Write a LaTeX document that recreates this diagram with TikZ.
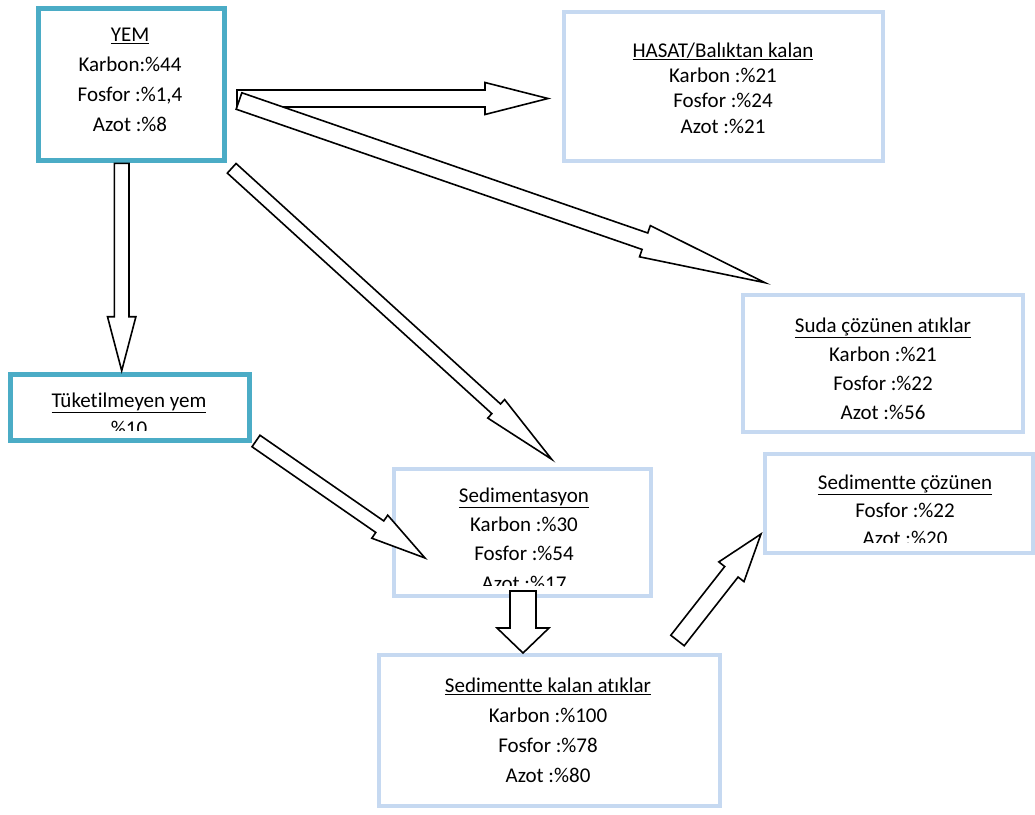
\documentclass[tikz,border=0pt]{standalone}
\usepackage{fontspec}
\setmainfont{Carlito}[Ligatures=CommonOff]
\usetikzlibrary{calc}
\definecolor{yemteal}{RGB}{75,172,198}
\definecolor{paleblue}{RGB}{198,217,241}
\tikzset{
  tealbox/.style={draw=yemteal, line width=5pt, outer sep=0pt, inner sep=0pt, fill=white},
  bluebox/.style={draw=paleblue, line width=4pt, outer sep=0pt, inner sep=0pt, fill=white},
  boxtext/.style={align=center, inner sep=0pt, font=\fontsize{21}{30}\selectfont},
  blockarr/.style={draw=black, line width=1.6pt, fill=white, line join=miter}
}
% block arrow: start, tip, shaft half width, head half width, head length
\newcommand{\blockarrow}[5]{%
  \pgfpointdiff{\pgfpointanchor{#1}{center}}{\pgfpointanchor{#2}{center}}%
  \pgfgetlastxy{\arrdx}{\arrdy}%
  \pgfmathsetmacro{\arrlen}{veclen(\arrdx,\arrdy)}%
  \pgfmathsetmacro{\arrang}{atan2(\arrdy,\arrdx)}%
  \pgfmathsetmacro{\arrbase}{\arrlen-#5}%
  \begin{scope}[shift={(#1)}, rotate=\arrang]
    \draw[blockarr] (0,-#3) -- (\arrbase,-#3) -- (\arrbase,-#4) -- (\arrlen,0)
      -- (\arrbase,#4) -- (\arrbase,#3) -- (0,#3) -- cycle;
  \end{scope}}

\begin{document}
\begin{tikzpicture}[x=1pt, y=-1pt]

      \useasboundingbox (0,0) rectangle (1035,814);

      % BOXES

      \node[tealbox, minimum width=186pt, minimum height=152pt] (yem) at (131.5,84.5) {};
      \node[bluebox, minimum width=319pt, minimum height=149pt] (hasat) at (723.5,86.5) {};
      \node[bluebox, minimum width=280pt, minimum height=137pt] (suda) at (883,363.5) {};
      \node[tealbox, minimum width=239pt, minimum height=66pt] (tuk) at (130,407.5) {};
      \node[bluebox, minimum width=257pt, minimum height=127pt] (sedim) at (522.5,532.5) {};
      \node[bluebox, minimum width=268pt, minimum height=99pt] (sedcoz) at (899,503.5) {};
      \node[bluebox, minimum width=341pt, minimum height=151pt] (sedkal) at (549.5,730.5) {};

      % TEXTS

      \node[boxtext] (yemtxt) at (130,80) {\underline{YEM}\\Karbon:\%44\\ Fosfor :\%1,4\\ Azot :\%8};
      \node[boxtext, font=\fontsize{21}{25.3}\selectfont] (hasattxt) at (723,88)
        {\underline{HASAT/Balıktan kalan}\\Karbon :\%21\\Fosfor :\%24\\Azot :\%21};
      \node[boxtext, font=\fontsize{21}{29}\selectfont] (sudatxt) at (883,368.5)
        {\underline{Suda çözünen atıklar}\\Karbon :\%21\\Fosfor :\%22\\Azot :\%56};
      \node[boxtext] (sedkaltxt) at (548,730)
        {\underline{Sedimentte kalan atıklar}\\Karbon :\%100\\Fosfor :\%78\\Azot :\%80};

      % clipped texts
      \begin{scope}
        \clip ([shift={(2.5,2.5)}]tuk.north west) rectangle ([shift={(-2.5,-10.5)}]tuk.south east);
        \node[boxtext, font=\fontsize{21}{28}\selectfont] (tuktxt) at (129,414) {\underline{Tüketilmeyen yem}\\\%10};
      \end{scope}
      \begin{scope}
        \clip ([shift={(2,2)}]sedim.north west) rectangle ([shift={(-2,-11)}]sedim.south east);
        \node[boxtext, font=\fontsize{21}{29.3}\selectfont] (sedimtxt) at (524,539)
          {\underline{Sedimentasyon}\\Karbon :\%30\\Fosfor :\%54\\Azot :\%17};
      \end{scope}
      \begin{scope}
        \clip ([shift={(2,2)}]sedcoz.north west) rectangle ([shift={(-2,-11)}]sedcoz.south east);
        \node[boxtext, font=\fontsize{21}{28}\selectfont] (sedcoztxt) at (905,510)
          {\underline{Sedimentte çözünen}\\Fosfor :\%22\\Azot :\%20};
      \end{scope}

      % ARROWS

      \coordinate (a1) at (237,98.5);    \coordinate (a1t) at (548,98.5);
      \coordinate (a2) at (239,101);     \coordinate (a2t) at (765,282.7);
      \coordinate (a3) at (231.7,168.3); \coordinate (a3t) at (551.7,459.3);
      \coordinate (a4) at (121.7,163.3); \coordinate (a4t) at (121.7,370.7);
      \coordinate (a5) at (256,441);     \coordinate (a5t) at (425,558);
      \coordinate (a6) at (523,591);     \coordinate (a6t) at (523,653);
      \coordinate (a7) at (677.5,640.5); \coordinate (a7t) at (761,534);

      \blockarrow{a1}{a1t}{8.5}{16}{63}
      \blockarrow{a2}{a2t}{8.7}{16.5}{127}
      \blockarrow{a3}{a3t}{6.5}{12.5}{75}
      \blockarrow{a4}{a4t}{7.3}{14.2}{54}
      \blockarrow{a5}{a5t}{7}{14}{55}
      \blockarrow{a6}{a6t}{13}{26}{25}
      \blockarrow{a7}{a7t}{8.5}{16}{48}

    \end{tikzpicture}
\end{document}
